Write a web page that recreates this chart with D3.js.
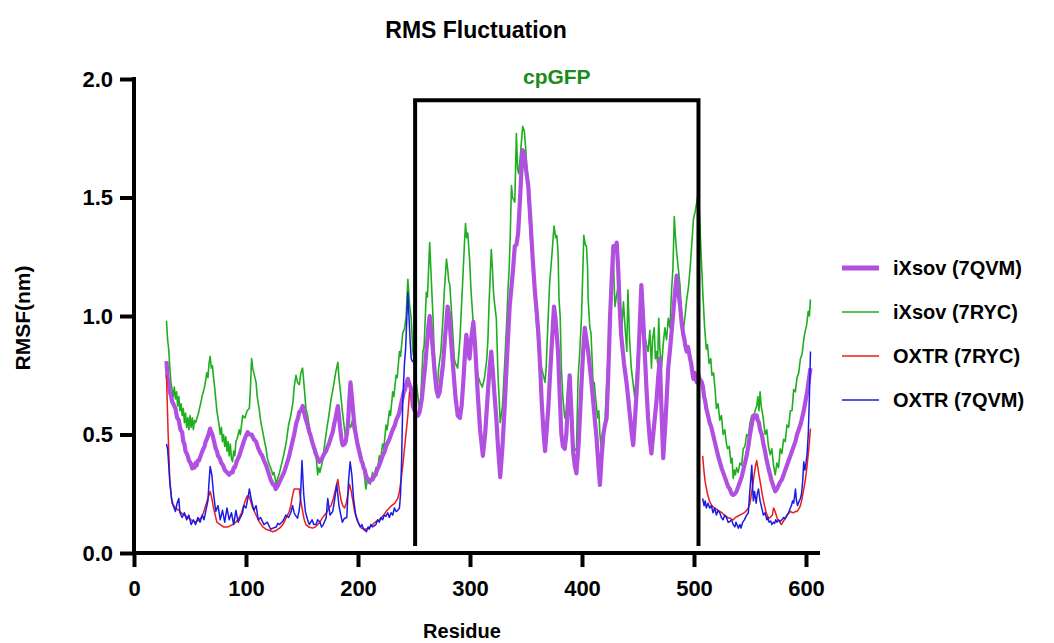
<!DOCTYPE html>
<html>
<head>
<meta charset="utf-8">
<script src="https://cdn.jsdelivr.net/npm/d3@7"></script>
<style>
  html, body { margin: 0; padding: 0; background: #fff; }
  svg { display: block; }
  text { font-family: "Liberation Sans", Arial, sans-serif; font-weight: bold; fill: #000; }
</style>
</head>
<body>
<svg id="chart" width="1054" height="643"></svg>
<script>
// ---------- DATA ----------
const title = "RMS Fluctuation";
const xLabel = "Residue";
const yLabel = "RMSF(nm)";
const xTicks = [0, 100, 200, 300, 400, 500, 600];
const yTicks = [0.0, 0.5, 1.0, 1.5, 2.0];
const seriesNames = ["iXsov (7QVM)", "iXsov (7RYC)", "OXTR (7RYC)", "OXTR (7QVM)"];
const seriesColors = ["#b14fe0", "#1fae1f", "#ee1b1b", "#1b1be6"];
const regionLabel = "cpGFP";
const regionStart = 251, regionEnd = 504, regionTop = 1.91;

// iXsov (7RYC) — [residue, RMSF]
const iXsov7RYC = [[29,0.98],[30,0.9],[31,0.86],[32,0.78],[33,0.72],[34,0.69],[35,0.66],[36,0.7],[37,0.65],[38,0.68],[39,0.62],[40,0.66],[41,0.6],[42,0.63],[43,0.58],[44,0.61],[45,0.55],[46,0.59],[47,0.53],[48,0.57],[49,0.52],[50,0.58],[51,0.53],[52,0.57],[53,0.52],[54,0.56],[55,0.55],[57,0.58],[59,0.62],[61,0.665],[63,0.7],[65,0.76],[66,0.74],[67,0.8],[68,0.83],[69,0.78],[70,0.79],[71,0.74],[72,0.7],[73,0.65],[74,0.6],[75,0.57],[76,0.54],[77,0.5],[78,0.53],[79,0.47],[80,0.5],[81,0.45],[82,0.49],[83,0.43],[84,0.47],[85,0.41],[86,0.46],[87,0.4],[88,0.385],[89,0.43],[90,0.41],[91,0.47],[92,0.48],[94,0.52],[95,0.5],[97,0.58],[99,0.57],[101,0.6],[103,0.61],[104,0.7],[105,0.82],[106,0.78],[107,0.76],[109,0.72],[110,0.66],[112,0.6],[113,0.56],[115,0.51],[117,0.46],[118,0.44],[119,0.4],[121,0.37],[122,0.36],[124,0.33],[125,0.34],[127,0.29],[128,0.31],[130,0.34],[132,0.38],[134,0.42],[136,0.47],[138,0.54],[140,0.58],[142,0.64],[143,0.7],[144.6,0.75],[146,0.72],[147.6,0.71],[149,0.76],[150.5,0.78],[152,0.7],[153.5,0.61],[155,0.58],[157,0.52],[159.5,0.47],[161,0.42],[162,0.44],[164,0.33],[165,0.36],[166,0.34],[168,0.38],[170,0.45],[172,0.52],[174,0.58],[176,0.65],[178,0.7],[180,0.76],[182,0.805],[183,0.74],[185,0.65],[186,0.6],[187,0.56],[189,0.48],[190,0.5],[191.5,0.55],[193.5,0.53],[195,0.56],[196,0.52],[198,0.52],[200,0.47],[202,0.43],[203,0.41],[205,0.36],[207,0.27],[208,0.3],[209,0.31],[211,0.29],[213,0.34],[214,0.31],[216,0.36],[217,0.33],[219,0.41],[220,0.39],[222,0.46],[223,0.44],[225,0.54],[226,0.52],[228,0.6],[229,0.58],[231,0.68],[232,0.66],[234,0.75],[235,0.74],[237,0.85],[238,0.83],[240,0.93],[241.5,0.945],[243,1.0],[244.5,1.155],[246,1.05],[247.5,0.99],[249,0.85],[250,0.82],[252,0.72],[254,0.64],[255,0.6],[256,0.65],[258,0.85],[259,0.87],[261,1.1],[262,1.08],[264,1.31],[265,1.2],[267,0.99],[268,0.85],[270,0.72],[271,0.7],[272,0.78],[274,0.85],[276,1.0],[277,1.1],[279,1.24],[280,1.2],[281,1.15],[282,1.13],[284,0.98],[286,0.82],[287,0.8],[289,0.78],[291,0.9],[293,1.1],[295,1.3],[296,1.39],[297,1.33],[298,1.35],[299.6,1.24],[301,1.1],[302.6,0.99],[304,0.9],[305.5,0.82],[307,0.75],[309,0.72],[311,0.7],[313,0.74],[315,0.82],[316,0.9],[317,1.05],[319,1.28],[320,1.2],[321,1.1],[322,1.05],[323.5,0.99],[325,0.75],[327,0.55],[329,0.62],[331,0.8],[333,1.0],[334,1.12],[335,1.2],[336,1.35],[337,1.55],[338,1.5],[340,1.48],[341.4,1.77],[342.5,1.62],[343.5,1.6],[345,1.68],[347,1.8],[348.5,1.78],[350,1.69],[351.5,1.55],[353,1.41],[354.5,1.3],[356,1.24],[357.5,1.1],[359,0.99],[361,0.88],[363,0.8],[364,0.78],[366,0.74],[367,0.72],[368,0.78],[369,0.9],[371,1.13],[373,1.25],[375,1.38],[376.5,1.33],[377.5,1.34],[378.6,1.27],[379.5,1.07],[380.5,1.0],[381.6,0.78],[383,0.65],[384.6,0.57],[386,0.6],[387.5,0.7],[389,0.75],[390,0.62],[391,0.52],[392,0.46],[393.5,0.44],[395,0.43],[396.5,0.735],[398,0.85],[399.5,0.99],[400.5,1.15],[401.6,1.34],[403,1.3],[404,1.295],[405,1.2],[405.5,1.07],[407,0.95],[408,0.93],[410,0.71],[411,0.72],[412,0.66],[414,0.57],[415,0.6],[416,0.5],[417.5,0.43],[419,0.45],[420,0.5],[421.5,0.66],[423,0.8],[425,0.99],[426.5,1.12],[428,1.24],[429.4,1.04],[431,1.09],[432.4,1.13],[433.5,1.0],[435,0.92],[436,0.98],[437,1.06],[438.5,0.95],[440,0.85],[441,1.11],[442.5,0.9],[444,0.78],[445.5,0.72],[447,0.66],[448.5,0.75],[450,0.85],[451.5,0.99],[452.5,1.05],[453.6,1.13],[454.5,1.05],[456,0.92],[457.5,0.88],[459,0.85],[460.6,0.94],[462,0.78],[463,0.9],[464.5,0.95],[465.5,0.82],[466.5,0.85],[467.5,0.8],[468.5,0.99],[469.5,0.86],[471,0.78],[472.5,0.88],[474,0.95],[475.5,0.9],[477,0.99],[478.5,0.95],[480,1.11],[481.2,1.2],[482.4,1.42],[483.5,1.33],[484.5,1.27],[486,1.2],[487.5,1.13],[489,1.0],[490.5,0.94],[492,1.0],[493.5,1.07],[495,1.12],[496.5,1.2],[498,1.3],[499.5,1.41],[501,1.44],[502.5,1.48],[504,1.53],[506,1.3],[508,1.085],[509.5,0.95],[511,0.86],[512,0.88],[513.5,0.8],[515,0.82],[516,0.75],[517.5,0.76],[519,0.68],[520,0.61],[521.5,0.63],[523,0.56],[524.5,0.58],[526,0.5],[527.5,0.52],[529,0.46],[530,0.44],[531.5,0.45],[533,0.38],[534,0.4],[535,0.315],[536,0.35],[537,0.33],[538,0.36],[539.5,0.34],[541,0.38],[542.5,0.37],[544,0.44],[545.5,0.45],[547,0.5],[548.5,0.49],[550,0.55],[551.6,0.58],[553,0.56],[554.5,0.6],[556,0.62],[557,0.66],[558,0.6],[559,0.68],[560,0.62],[561.5,0.58],[563.5,0.5],[565,0.52],[566.5,0.45],[568,0.415],[569.5,0.44],[571,0.37],[572.5,0.33],[574,0.38],[575.5,0.36],[577,0.44],[578.5,0.42],[580,0.48],[581.5,0.47],[583,0.54],[584.5,0.53],[586,0.6],[587.5,0.6],[589,0.69],[590.5,0.68],[592,0.74],[593.5,0.76],[595,0.82],[596.5,0.84],[598,0.9],[599,0.93],[600.5,0.96],[602,1.02],[603,1.0],[604,1.07]];

// iXsov (7QVM)
const iXsov7QVM = [[29,0.81],[30,0.74],[31,0.72],[32,0.68],[33,0.665],[34,0.64],[35,0.63],[36,0.62],[37,0.61],[38.5,0.57],[40,0.56],[41.5,0.52],[43,0.51],[44,0.47],[45,0.46],[46,0.43],[47,0.42],[48,0.41],[49,0.39],[50.5,0.38],[52,0.357],[53,0.37],[54,0.36],[55,0.38],[56,0.37],[57,0.39],[58,0.39],[59.5,0.41],[61,0.43],[62,0.44],[63,0.45],[64,0.47],[65,0.48],[66.5,0.5],[68,0.525],[69,0.51],[70,0.5],[71.5,0.47],[73,0.44],[74,0.43],[75,0.41],[76.5,0.4],[78,0.38],[79.5,0.37],[81,0.35],[83,0.34],[85,0.33],[86.5,0.34],[88,0.34],[89,0.36],[90,0.36],[92,0.39],[94,0.41],[96,0.44],[98,0.47],[99.5,0.49],[101.5,0.51],[103,0.5],[105,0.5],[107,0.48],[109,0.47],[111,0.44],[113,0.42],[114.5,0.41],[116,0.39],[117,0.38],[118,0.37],[120,0.34],[122,0.31],[124,0.29],[125,0.29],[126.5,0.27],[128,0.28],[129,0.29],[130,0.3],[132,0.32],[134,0.34],[136,0.37],[138.6,0.41],[140,0.44],[141,0.46],[143,0.5],[145,0.55],[146.5,0.57],[147.6,0.595],[149,0.6],[150.6,0.62],[152,0.59],[153,0.57],[155,0.54],[156.5,0.51],[158,0.49],[159,0.47],[161,0.44],[163,0.41],[164,0.4],[165.5,0.385],[167,0.39],[168,0.4],[170,0.42],[171.5,0.43],[173,0.45],[174,0.46],[176,0.49],[177.4,0.51],[179,0.55],[180,0.57],[182,0.62],[183,0.58],[184,0.53],[185.5,0.47],[186.4,0.455],[188,0.46],[189,0.47],[190,0.5],[191,0.54],[192.3,0.65],[193.3,0.72],[194.5,0.66],[196,0.58],[197,0.53],[198,0.5],[199.5,0.46],[201,0.43],[202,0.41],[203,0.39],[204,0.38],[205,0.36],[206,0.35],[207,0.33],[208.5,0.31],[210,0.3],[211,0.31],[212,0.31],[213,0.31],[214,0.32],[215.5,0.33],[217,0.35],[218,0.36],[219,0.37],[220.5,0.39],[222,0.41],[223,0.42],[224,0.43],[225,0.45],[226,0.46],[227,0.47],[228,0.48],[229.5,0.5],[231,0.52],[232,0.53],[233,0.54],[234,0.56],[235,0.57],[236,0.58],[237,0.595],[238,0.62],[239,0.64],[240,0.66],[241,0.68],[242,0.69],[243,0.71],[244.5,0.735],[246,0.71],[247,0.7],[248,0.66],[249,0.62],[250.5,0.6],[252,0.59],[253.5,0.58],[255,0.595],[257,0.65],[258.5,0.72],[260,0.79],[261,0.85],[263,0.96],[264,1.0],[265.5,0.93],[267,0.85],[268.5,0.76],[270,0.69],[271.5,0.66],[273,0.68],[274,0.72],[276,0.8],[277.5,0.9],[279,0.98],[280,1.04],[281.5,1.0],[283,0.9],[285,0.78],[287,0.66],[289,0.58],[291,0.57],[292.5,0.62],[294,0.72],[295.5,0.84],[296.7,0.92],[298,0.87],[299.6,0.82],[301,0.9],[303,0.975],[304.5,0.88],[306,0.75],[307,0.665],[309,0.52],[311.5,0.41],[313.5,0.5],[316,0.68],[317.5,0.78],[319,0.85],[320.5,0.76],[322,0.66],[323.5,0.567],[325,0.45],[327,0.32],[329,0.45],[331,0.62],[333,0.82],[335.4,1.04],[337,1.12],[338.5,1.2],[340,1.295],[341.5,1.3],[343,1.35],[344.5,1.48],[346,1.62],[347,1.7],[348.5,1.68],[350,1.62],[352,1.55],[354,1.4],[356,1.24],[358,1.1],[359.5,1.02],[361,0.93],[362.5,0.8],[364,0.64],[365.5,0.52],[367,0.43],[368.5,0.52],[370,0.62],[371,0.71],[373,0.88],[375,1.04],[376.5,0.98],[378.6,0.85],[380,0.68],[381.6,0.5],[383,0.45],[384.6,0.44],[386,0.5],[387.5,0.64],[389,0.75],[390.5,0.6],[392,0.43],[393.5,0.37],[395,0.336],[397,0.46],[399.5,0.71],[401,0.85],[402.5,0.95],[404,0.9],[405.5,0.85],[408,0.74],[410,0.64],[411.5,0.56],[413,0.485],[414.5,0.38],[416,0.287],[417.5,0.4],[419,0.5],[420.5,0.54],[422,0.57],[423.5,0.76],[425,0.99],[426.5,1.15],[428,1.295],[429.5,1.28],[431,1.31],[432.4,1.19],[433.5,1.05],[435,0.92],[437.5,0.8],[440,0.71],[441.5,0.64],[443,0.57],[444.5,0.5],[445.7,0.455],[447.5,0.58],[449.5,0.74],[451.5,0.95],[453,1.13],[454.5,1.0],[456,0.85],[457.5,0.7],[459,0.57],[460.5,0.48],[462,0.42],[464,0.52],[466.5,0.64],[468,0.74],[469.5,0.82],[471,0.6],[472.5,0.4],[474.5,0.55],[477,0.78],[479,0.88],[481.5,1.015],[483,1.1],[484.5,1.17],[486,1.1],[487.5,1.045],[489,0.97],[490.5,0.92],[491.5,0.9],[492,0.88],[493.5,0.85],[494.5,0.87],[495,0.86],[496.5,0.82],[497.5,0.8],[498,0.78],[499.5,0.735],[500.5,0.76],[501,0.74],[502.5,0.72],[504,0.75],[505,0.735],[507,0.72],[508,0.7],[509,0.66],[510,0.64],[511,0.61],[512.5,0.58],[514,0.55],[515.5,0.53],[517,0.5],[518.5,0.47],[520,0.44],[521.5,0.41],[523,0.385],[524.5,0.36],[526,0.34],[527.5,0.32],[529,0.3],[530.5,0.28],[532,0.27],[533.5,0.25],[535,0.245],[536.5,0.25],[538,0.26],[539.5,0.28],[541,0.3],[542.5,0.32],[544,0.35],[545.5,0.38],[547,0.41],[548.5,0.45],[550,0.5],[551.5,0.54],[553,0.58],[554.5,0.57],[556,0.58],[557,0.56],[558,0.55],[559,0.52],[560.5,0.5],[562,0.46],[563,0.44],[564.5,0.4],[566.5,0.357],[568,0.33],[569,0.31],[571,0.28],[572.5,0.26],[574,0.27],[575,0.28],[576,0.29],[577,0.3],[578.5,0.31],[580,0.33],[581.5,0.35],[583,0.37],[584.5,0.39],[586,0.41],[587.5,0.43],[589,0.45],[590.5,0.47],[592,0.5],[593.5,0.52],[595,0.54],[596.5,0.57],[598,0.6],[599.5,0.64],[601,0.68],[602.5,0.73],[604,0.78]];

// OXTR (7RYC)
const oxtr7RYC = [[29,0.75],[30.5,0.5],[32,0.3],[34,0.21],[37,0.19],[40,0.18],[42,0.17],[45,0.16],[48,0.15],[51,0.14],[55,0.13],[58,0.14],[60,0.15],[62,0.17],[64,0.2],[66,0.23],[68,0.26],[69.5,0.23],[71,0.19],[73,0.15],[74,0.13],[77,0.12],[80,0.11],[84,0.11],[88,0.12],[91,0.13],[94,0.15],[96,0.17],[98,0.2],[100,0.23],[101,0.24],[102.5,0.24],[104,0.22],[106,0.19],[108,0.17],[110,0.15],[112,0.13],[115,0.11],[118,0.1],[121,0.095],[124,0.09],[127,0.095],[130,0.105],[133,0.12],[135,0.14],[138.6,0.175],[140,0.2],[141.5,0.24],[143,0.27],[145,0.27],[147.6,0.27],[149,0.22],[150.6,0.175],[152,0.14],[153.5,0.12],[156,0.11],[159.5,0.105],[162,0.11],[164,0.12],[166,0.13],[168,0.147],[170,0.16],[172,0.17],[174,0.19],[176,0.2],[178,0.23],[179.5,0.26],[181,0.29],[182,0.31],[183.5,0.26],[185,0.22],[186.4,0.2],[188,0.19],[189.5,0.21],[191,0.25],[192.4,0.29],[194,0.26],[195,0.23],[197,0.175],[199,0.14],[201,0.12],[203,0.105],[206,0.1],[210,0.105],[213,0.12],[216,0.133],[219,0.14],[221,0.15],[223,0.16],[225,0.175],[228,0.19],[230,0.2],[233,0.21],[235.5,0.23],[237,0.26],[238.5,0.31],[240,0.37],[241.5,0.44],[243,0.51],[244.5,0.58],[246,0.68],
  null,
  [507.7,0.41],[509,0.34],[510,0.3],[512,0.25],[514,0.217],[516,0.2],[518,0.19],[520,0.185],[523,0.175],[525,0.17],[527,0.16],[530,0.15],[532,0.147],[535,0.14],[537,0.15],[539,0.155],[541,0.16],[543,0.165],[545,0.17],[547,0.18],[548.5,0.19],[550,0.21],[551,0.24],[552.5,0.29],[553.7,0.33],[555,0.37],[556,0.39],[557,0.36],[558,0.33],[559.5,0.29],[560.5,0.26],[562,0.22],[563,0.2],[564.5,0.17],[566.5,0.147],[568,0.15],[570,0.16],[571,0.19],[572.5,0.175],[574,0.15],[575,0.14],[576.5,0.13],[578,0.12],[580,0.135],[582,0.15],[584,0.165],[586,0.175],[588,0.17],[589,0.17],[590.5,0.175],[592,0.175],[593.5,0.185],[595,0.2],[596.5,0.23],[598,0.27],[599.5,0.31],[601,0.37],[602.5,0.44],[604,0.525]];

// OXTR (7QVM)
const oxtr7QVM = [[29,0.46],[30,0.44],[31,0.37],[32,0.3],[33.5,0.23],[35,0.2],[37,0.175],[38.5,0.21],[40,0.23],[41,0.17],[43,0.15],[45,0.17],[47,0.14],[49,0.16],[51,0.12],[53,0.14],[55,0.12],[57,0.15],[59,0.13],[61,0.16],[62.5,0.14],[64,0.175],[66,0.22],[67,0.3],[68,0.365],[69.5,0.33],[71,0.25],[73,0.175],[75,0.2],[77,0.14],[79,0.18],[81,0.13],[83,0.19],[85,0.14],[87,0.17],[89,0.12],[91,0.18],[93,0.13],[95,0.15],[97,0.17],[98,0.2],[100,0.19],[102,0.24],[103,0.27],[105,0.22],[107,0.18],[109,0.2],[111,0.14],[113,0.15],[116,0.12],[119,0.13],[122,0.1],[124,0.105],[127,0.11],[128.5,0.125],[130,0.12],[133,0.135],[135.6,0.16],[138,0.15],[140,0.17],[141.6,0.2],[143,0.17],[144,0.16],[146,0.147],[147.5,0.18],[148.5,0.22],[150,0.39],[151.5,0.25],[153,0.175],[155,0.14],[156.5,0.12],[159,0.14],[160.5,0.12],[162.5,0.12],[164,0.14],[166,0.13],[167.5,0.11],[169,0.12],[171.5,0.147],[173,0.23],[175,0.16],[177.4,0.175],[179,0.22],[181,0.29],[183,0.2],[184,0.175],[186,0.13],[188,0.147],[190,0.15],[191.5,0.3],[193,0.385],[194.5,0.33],[196,0.23],[198,0.16],[200,0.133],[202,0.11],[203.5,0.12],[205,0.1],[207.5,0.09],[209,0.11],[210,0.1],[211.5,0.12],[213,0.11],[216,0.12],[217.5,0.14],[219,0.13],[220.5,0.15],[222,0.14],[223.5,0.16],[225,0.155],[226.5,0.17],[228,0.15],[229.5,0.17],[231,0.16],[232.5,0.19],[234,0.175],[235.5,0.18],[237,0.19],[238,0.25],[239,0.4],[240,0.65],[241.5,0.8],[242.5,0.86],[243.5,0.98],[244.5,1.1],[245.5,1.0],[246.5,0.9],[247.5,0.82],[249,0.805],
  null,
  [507.7,0.23],[509,0.2],[510,0.22],[511,0.19],[512.5,0.21],[514,0.19],[515.5,0.2],[517,0.17],[518.5,0.19],[520,0.16],[521.5,0.18],[523,0.17],[524.5,0.15],[526,0.14],[527.5,0.16],[529,0.15],[530.5,0.13],[532,0.133],[533.5,0.14],[535,0.12],[536.5,0.11],[537.5,0.13],[539.6,0.105],[541,0.12],[542,0.105],[543.5,0.13],[545,0.14],[547,0.16],[548.5,0.17],[549.5,0.24],[550.5,0.3],[551.6,0.37],[552.5,0.26],[553,0.22],[554,0.26],[555.5,0.21],[556.5,0.25],[557.6,0.27],[559,0.22],[560,0.2],[561,0.18],[562,0.16],[563.5,0.17],[565,0.14],[566,0.15],[567,0.13],[568.5,0.135],[569.5,0.12],[571,0.13],[572,0.125],[573,0.14],[574,0.13],[575.5,0.14],[577,0.133],[578.5,0.14],[580,0.15],[581.5,0.145],[583,0.16],[584.5,0.17],[586,0.19],[587,0.2],[588,0.22],[589,0.21],[590.6,0.27],[591.5,0.22],[592.5,0.2],[594,0.22],[595,0.23],[596,0.25],[597,0.3],[598,0.385],[599,0.35],[600,0.38],[601,0.42],[602,0.5],[603,0.65],[604,0.85]];

const seriesData = [iXsov7QVM, iXsov7RYC, oxtr7RYC, oxtr7QVM];

// ---------- DRAW ----------
const svg = d3.select("#chart");
const x = d3.scaleLinear().domain([0, 600]).range([134, 806]);
const y = d3.scaleLinear().domain([0, 2]).range([553, 79]);
const xAxisEnd = 612.5;

// title
svg.append("text").attr("x", 476).attr("y", 30).attr("text-anchor", "middle")
  .attr("dominant-baseline", "central").style("font-size", "23px").text(title);

// lines (draw order: green, purple, red, blue)
const line = d3.line().defined(d => d !== null).x(d => x(d[0])).y(d => y(d[1]));
const drawOrder = [1, 0, 2, 3];
const widths = [4.2, 1.6, 1.5, 1.5];
drawOrder.forEach(i => {
  svg.append("path").datum(seriesData[i]).attr("fill", "none")
    .attr("stroke", seriesColors[i]).attr("stroke-width", widths[i])
    .attr("stroke-linejoin", "round").attr("d", line);
});

// cpGFP box
const boxPath = d3.path();
boxPath.moveTo(x(regionStart), y(0.03));
boxPath.lineTo(x(regionStart), y(regionTop));
boxPath.lineTo(x(regionEnd), y(regionTop));
boxPath.lineTo(x(regionEnd), y(0.03));
svg.append("path").attr("d", boxPath.toString()).attr("fill", "none")
  .attr("stroke", "#000").attr("stroke-width", 4).attr("stroke-linejoin", "miter");
svg.append("text").attr("x", (x(regionStart) + x(regionEnd)) / 2).attr("y", 76)
  .attr("text-anchor", "middle").attr("dominant-baseline", "central")
  .style("font-size", "21px").style("fill", "#1a8c1a").text(regionLabel);

// axes
const xAxis = d3.axisBottom(x).tickValues(xTicks).tickSize(14).tickSizeOuter(0).tickPadding(13);
const gx = svg.append("g").attr("transform", `translate(0,${y(0)})`).call(xAxis);
gx.select(".domain").remove();
gx.append("line").attr("x1", x(0) - 2).attr("x2", x(xAxisEnd)).attr("y1", 0).attr("y2", 0)
  .attr("stroke", "#000").attr("stroke-width", 4);
gx.selectAll(".tick line").attr("stroke", "#000").attr("stroke-width", 4);
gx.selectAll(".tick text").style("font-size", "22px").style("font-family", "'Liberation Sans', Arial, sans-serif")
  .style("font-weight", "bold").attr("fill", "#000");

const yAxis = d3.axisLeft(y).tickValues(yTicks).tickFormat(d3.format(".1f")).tickSize(14).tickSizeOuter(0).tickPadding(7);
const gy = svg.append("g").attr("transform", `translate(${x(0)},0)`).call(yAxis);
gy.select(".domain").remove();
gy.append("line").attr("x1", 0).attr("x2", 0).attr("y1", y(2) - 2).attr("y2", y(0) + 2)
  .attr("stroke", "#000").attr("stroke-width", 4);
gy.selectAll(".tick line").attr("stroke", "#000").attr("stroke-width", 4);
gy.selectAll(".tick text").style("font-size", "22px").style("font-family", "'Liberation Sans', Arial, sans-serif")
  .style("font-weight", "bold").attr("fill", "#000");

// axis titles
svg.append("text").attr("x", 462).attr("y", 631).attr("text-anchor", "middle")
  .attr("dominant-baseline", "central").style("font-size", "20px").text(xLabel);
svg.append("text").attr("transform", "translate(22,318) rotate(-90)").attr("text-anchor", "middle")
  .attr("dominant-baseline", "central").style("font-size", "21px").text(yLabel);

// legend
const legendY = [268, 312, 356, 400];
seriesNames.forEach((name, i) => {
  svg.append("line").attr("x1", 842).attr("x2", 879).attr("y1", legendY[i]).attr("y2", legendY[i])
    .attr("stroke", seriesColors[i]).attr("stroke-width", i === 0 ? 5 : 1.6);
  svg.append("text").attr("x", 893).attr("y", legendY[i]).attr("dominant-baseline", "central")
    .style("font-size", "20px").text(name);
});
</script>
</body>
</html>
